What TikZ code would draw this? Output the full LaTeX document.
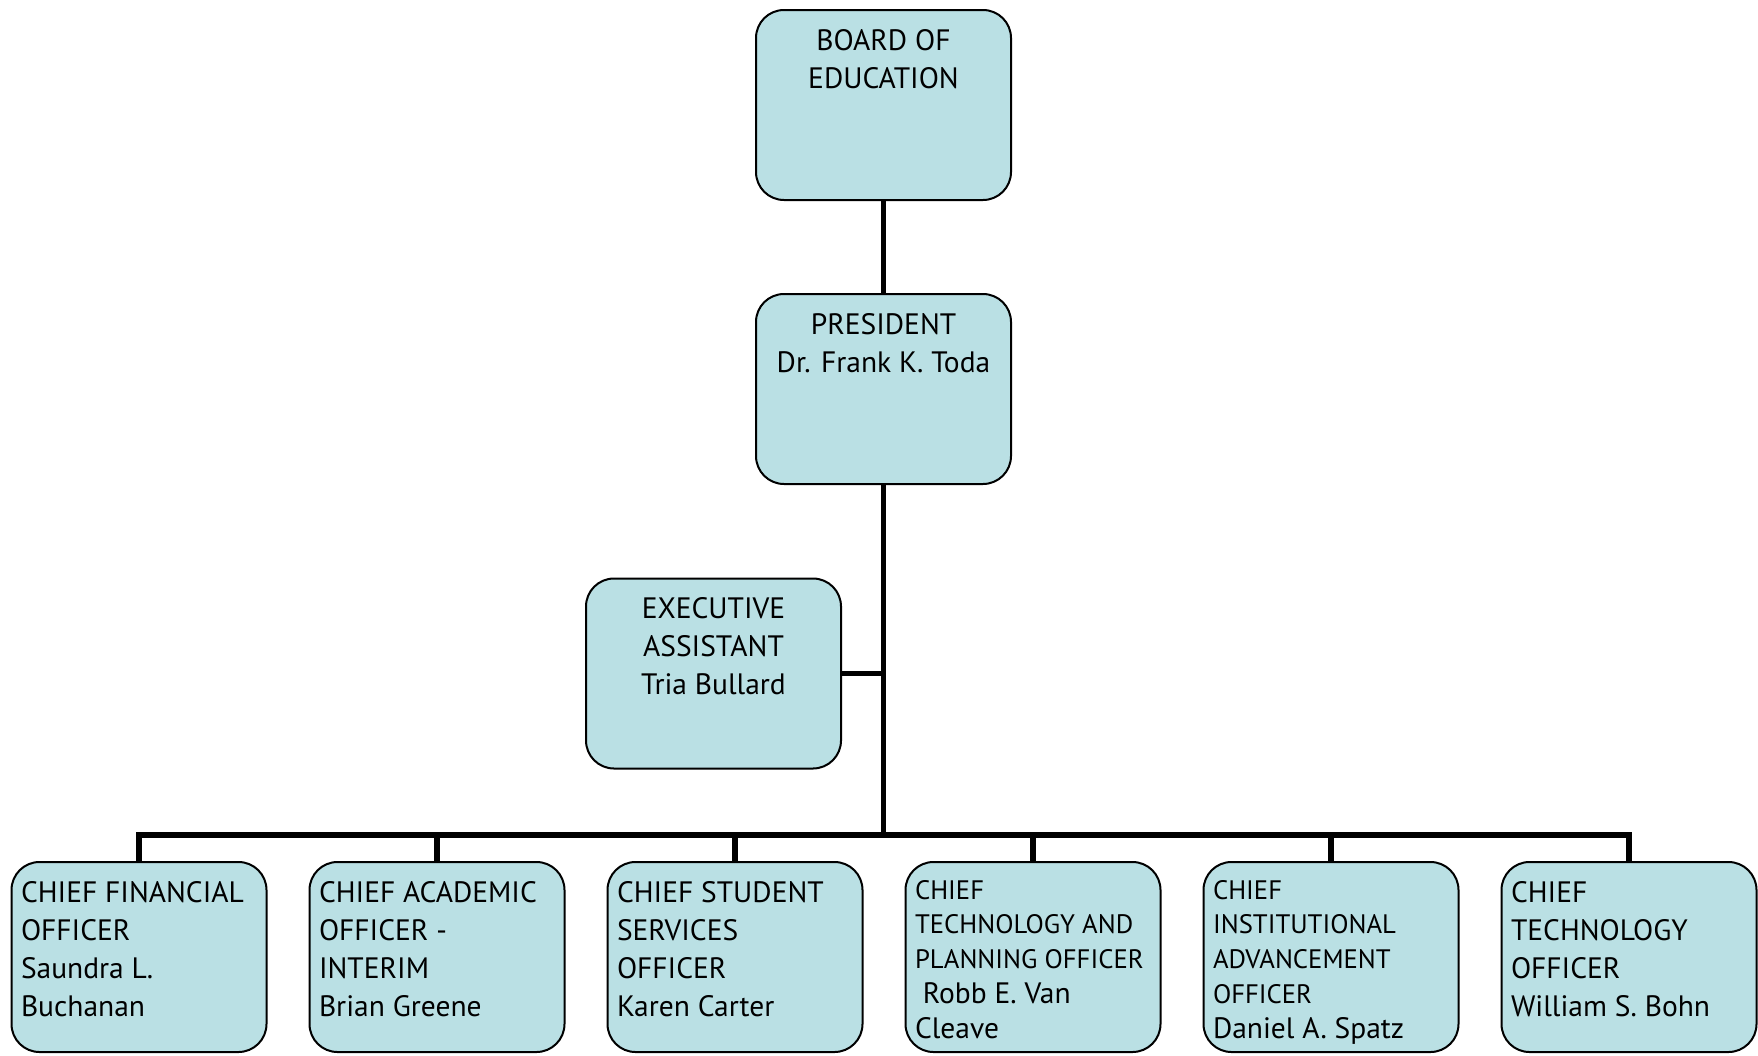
\documentclass[tikz,border=0pt]{standalone}
\usepackage{fontspec}
\setmainfont{PT Sans}
\usetikzlibrary{positioning}

\definecolor{boxfill}{RGB}{186,224,228}
\newcommand{\bigtext}{\fontsize{29.5pt}{38pt}\selectfont}
\newcommand{\smalltext}{\fontsize{26.7pt}{34.8pt}\selectfont}
\newcommand{\nametext}{\fontsize{29.5pt}{34.8pt}\selectfont}
% text sits at the top of each box
\newcommand{\midtext}[1]{\parbox[c][184pt][t]{241pt}{\centering\rule{0pt}{37pt}#1}}
\newcommand{\lefttext}[2][37pt]{\parbox[c][184pt][t]{236pt}{\raggedright\rule{0pt}{#1}#2}}

\begin{document}
\begin{tikzpicture}[x=1pt,y=-1pt,node distance=43pt,
                    org box/.style={draw,fill=boxfill,rounded corners=28pt,line width=2pt,
                                    minimum width=255pt,minimum height=190pt,
                                    inner sep=0pt,outer sep=0pt,font=\bigtext},
                    link/.style={line width=5.5pt}]

  \useasboundingbox (0,0) rectangle (1758,1055);

  \node[org box] (board) at (883.5,105) {\midtext{BOARD OF\\EDUCATION}};
  \node[org box] (pres) [below=94pt of board] {\midtext{PRESIDENT\\Dr. Frank K. Toda}};
  \node[org box] (exec) at (713.5,673.5) {\midtext{EXECUTIVE\\ASSISTANT\\Tria Bullard}};

  \node[org box] (cfo) at (139,957) {\lefttext{CHIEF FINANCIAL\\OFFICER\\Saundra L.\\Buchanan}};
  \node[org box] (cao) [right=of cfo] {\lefttext{CHIEF ACADEMIC\\OFFICER -\\INTERIM\\Brian Greene}};
  \node[org box] (cso) [right=of cao] {\lefttext{CHIEF STUDENT\\SERVICES\\OFFICER\\Karen Carter}};
  \node[org box] (ctp) [right=of cso] {\lefttext[34pt]{\smalltext CHIEF\\TECHNOLOGY AND\\PLANNING OFFICER\\{\nametext ~Robb E. Van\\Cleave}}};
  \node[org box] (cia) [right=of ctp] {\lefttext[34pt]{\smalltext CHIEF\\INSTITUTIONAL\\ADVANCEMENT\\OFFICER\\{\nametext Daniel A. Spatz}}};
  \node[org box] (cto) [right=of cia] {\lefttext{CHIEF\\TECHNOLOGY\\OFFICER\\William S. Bohn}};

  \coordinate (bus) at (0,835);

  \draw[link] (board) -- (pres);
  \draw[link] (pres.south) -- (pres.south |- bus);
  \draw[link] (exec.east) -- (exec.east -| pres.south);
  \draw[link] (cfo.north) |- (cto.north |- bus) -- (cto.north);
  \foreach \n in {cao,cso,ctp,cia}
    \draw[link] (\n.north) -- (\n.north |- bus);
\end{tikzpicture}
\end{document}
